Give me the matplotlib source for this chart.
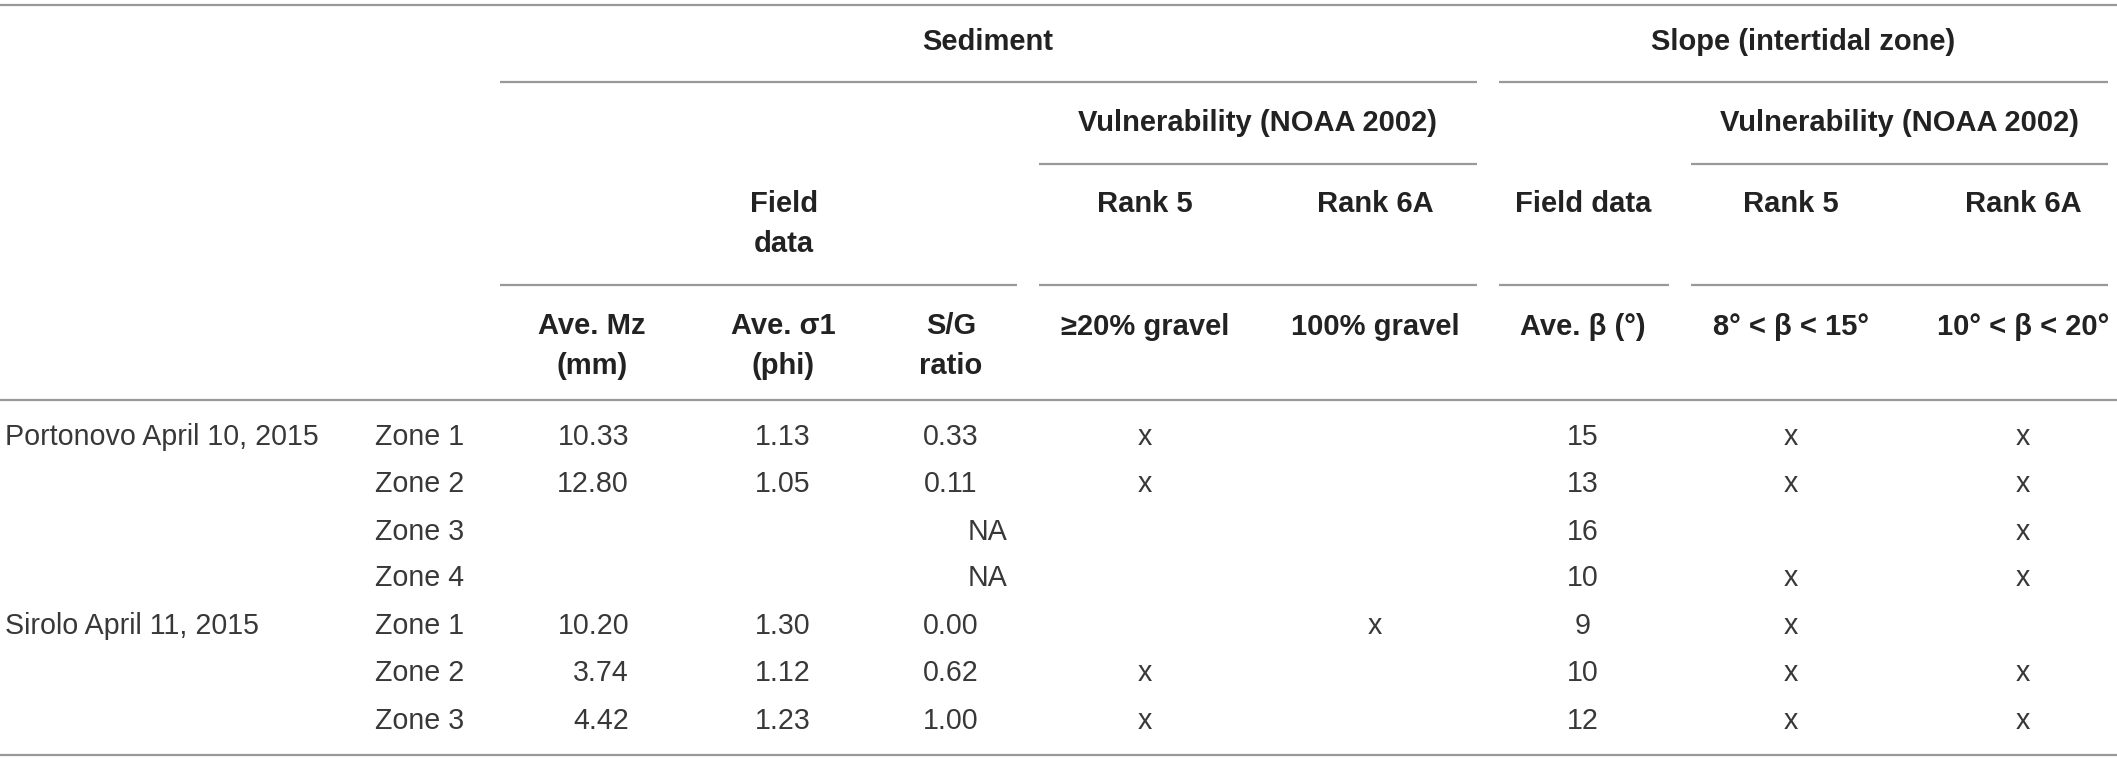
import matplotlib
matplotlib.use("Agg")
import matplotlib.pyplot as plt

plt.rcParams['font.family'] = ['Liberation Sans', 'DejaVu Sans']

# table contents
sites = ["Portonovo April 10, 2015", "", "", "", "Sirolo April 11, 2015", "", ""]
zones = ["Zone 1", "Zone 2", "Zone 3", "Zone 4", "Zone 1", "Zone 2", "Zone 3"]
ave_mz = ["10.33", "12.80", "", "", "10.20", "3.74", "4.42"]
ave_sigma = ["1.13", "1.05", "", "", "1.30", "1.12", "1.23"]
sg_ratio = ["0.33", "0.11", "NA", "NA", "0.00", "0.62", "1.00"]
sed_rank5 = ["x", "x", "", "", "", "x", "x"]
sed_rank6a = ["", "", "", "", "x", "", ""]
ave_beta = [15, 13, 16, 10, 9, 10, 12]
slope_rank5 = ["x", "x", "", "x", "x", "x", "x"]
slope_rank6a = ["x", "x", "x", "x", "", "x", "x"]

group_titles = ["Sediment", "Slope (intertidal zone)"]
vuln_title = "Vulnerability (NOAA 2002)"
rank_titles = ["Rank 5", "Rank 6A"]
col_headers = ["Ave. Mz\n(mm)", "Ave. \u03c31\n(phi)", "S/G\nratio",
               "\u226520% gravel", "100% gravel", "Ave. \u03b2 (\u00b0)",
               "8\u00b0 < \u03b2 < 15\u00b0", "10\u00b0 < \u03b2 < 20\u00b0"]

W, H = 2117, 761
fig = plt.figure(figsize=(W / 100, H / 100), dpi=100)
ax = fig.add_axes([0, 0, 1, 1])
ax.set_xlim(0, W)
ax.set_ylim(H, 0)
ax.axis('off')

head = dict(fontsize=21, fontweight='bold', color='#222222')
body = dict(fontsize=20.6, color='#383838')
lc = '#999999'
lw = 1.6

# column centres
x_site, x_zone = 5, 375
x_mz_right, x_mz = 629, 592
x_sig, x_sg, x_sg_right = 783, 951, 1007
x_s5, x_s6, x_beta, x_b5, x_b6 = 1145, 1375, 1583, 1791, 2023

# rules
def rule(y, x0, x1):
    ax.plot([x0, x1], [y, y], color=lc, lw=lw, solid_capstyle='butt')

rule(5, 0, W)
rule(82, 500, 1477); rule(82, 1499, 2108)
rule(164, 1039, 1477); rule(164, 1691, 2108)
for a, b in [(500, 1017), (1039, 1477), (1499, 1669), (1691, 2108)]:
    rule(285, a, b)
rule(400, 0, W)
rule(755, 0, W)

# header rows
ax.text(988, 42, group_titles[0], ha='center', va='center', **head)
ax.text(1803, 42, group_titles[1], ha='center', va='center', **head)
ax.text(1258, 123, vuln_title, ha='center', va='center', **head)
ax.text(1899, 123, vuln_title, ha='center', va='center', **head)
ax.text(784, 224, "Field\ndata", ha='center', va='center', linespacing=1.5, **head)
for xc, t in zip([x_s5, x_s6, x_b5, x_b6], rank_titles * 2):
    ax.text(xc, 204, t, ha='center', va='center', **head)
ax.text(x_beta, 204, "Field data", ha='center', va='center', **head)

col_x = [x_mz, x_sig, x_sg, x_s5, x_s6, x_beta, x_b5, x_b6]
for xc, t in zip(col_x, col_headers):
    if "\n" in t:
        ax.text(xc, 346, t, ha='center', va='center', linespacing=1.5, **head)
    else:
        ax.text(xc, 327, t, ha='center', va='center', **head)

# body rows
row_y = [437, 484, 532, 578, 626, 673, 721]
for i, y in enumerate(row_y):
    ax.text(x_site, y, sites[i], ha='left', va='center', **body)
    ax.text(x_zone, y, zones[i], ha='left', va='center', **body)
    ax.text(x_mz_right, y, ave_mz[i], ha='right', va='center', **body)
    ax.text(x_sig, y, ave_sigma[i], ha='center', va='center', **body)
    if sg_ratio[i] == "NA":
        ax.text(x_sg_right, y, sg_ratio[i], ha='right', va='center', **body)
    else:
        ax.text(x_sg, y, sg_ratio[i], ha='center', va='center', **body)
    ax.text(x_s5, y, sed_rank5[i], ha='center', va='center', **body)
    ax.text(x_s6, y, sed_rank6a[i], ha='center', va='center', **body)
    ax.text(x_beta, y, str(ave_beta[i]), ha='center', va='center', **body)
    ax.text(x_b5, y, slope_rank5[i], ha='center', va='center', **body)
    ax.text(x_b6, y, slope_rank6a[i], ha='center', va='center', **body)

fig.savefig("out.png", dpi=100, facecolor='white')
